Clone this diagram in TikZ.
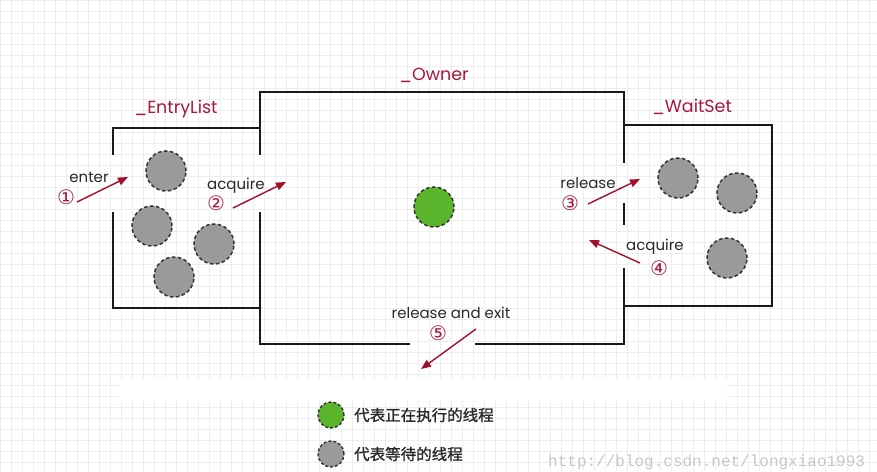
\documentclass[tikz,border=0pt]{standalone}
\usepackage{fontspec}
\setmainfont{Poppins}
\newfontfamily\symfont{DejaVu Sans}
\newfontfamily\cjkfont[FakeBold=1.2]{Noto Sans CJK SC}
\newfontfamily\wmfont{Liberation Mono}
\usetikzlibrary{arrows.meta,shapes.geometric}
\definecolor{lbl}{HTML}{A8193A}
\definecolor{arr}{HTML}{A0122C}
\definecolor{thr}{HTML}{9A9A9A}
\definecolor{run}{HTML}{5BB52C}
\definecolor{gridc}{HTML}{EDEDED}
\definecolor{txt}{HTML}{2A2A2A}
\begin{document}
\begin{tikzpicture}[x=1pt,y=-1pt,
  wall/.style={line width=2.8pt, black!90},
  thread/.style={circle, minimum size=40pt, inner sep=0pt, fill=thr, draw=black!80, line width=1.5pt, dash pattern=on 3.5pt off 2.5pt},
  running/.style={thread, fill=run},
  legthr/.style={circle, minimum size=26pt, inner sep=0pt, fill=thr, draw=black!80, line width=1.4pt, dash pattern=on 3pt off 2pt},
  boxtitle/.style={text=lbl, font=\fontsize{17.5}{20}\selectfont, inner sep=0pt},
  steplbl/.style={text=txt, font=\fontsize{15}{18}\selectfont, inner sep=0pt},
  stepnum/.style={text=lbl, font=\symfont\fontsize{20}{22}\selectfont, inner sep=0pt},
  flow/.style={arr, line width=1.4pt, -{Triangle[length=10pt,width=8pt]}},
  legtxt/.style={text=txt, font=\cjkfont\fontsize{15.5}{18}\selectfont, anchor=west, inner sep=0pt},
]
\useasboundingbox (0,0) rectangle (877,471);
\fill[white] (0,0) rectangle (877,471);
\begin{scope}
\clip (0,0) rectangle (877,471);
\foreach \i in {0,...,80} \draw[gridc, line width=0.5pt] (\i*11,0) -- (\i*11,471);
\foreach \i in {0,...,43} \draw[gridc, line width=0.5pt] (0,\i*11) -- (877,\i*11);
\end{scope}

% walls: EntryList
\draw[wall] (113,155) -- (113,128) -- (260,128);
\draw[wall] (113,212) -- (113,308) -- (260,308);
% Owner
\draw[wall] (260,155) -- (260,92) -- (624,92) -- (624,163);
\draw[wall] (260,212) -- (260,344) -- (410,344);
\draw[wall] (475,344) -- (624,344) -- (624,268);
\draw[wall] (624,203) -- (624,225);
% WaitSet
\draw[wall] (624,125) -- (772,125) -- (772,306) -- (624,306);

% titles
\node[boxtitle] (tEntry) at (176,109) {\_EntryList};
\node[boxtitle] (tOwner) at (434,75) {\_Owner};
\node[boxtitle] (tWait) at (692,107) {\_WaitSet};

% threads
\node[thread] (e1) at (166,171) {};
\node[thread] (e2) at (152,226) {};
\node[thread] (e3) at (214,244) {};
\node[thread] (e4) at (174,277) {};
\node[running] (o1) at (434,207) {};
\node[thread] (w1) at (678,178) {};
\node[thread] (w2) at (737,193) {};
\node[thread] (w3) at (727,258) {};

% step 1
\coordinate (a1s) at (77,202);
\coordinate (a1e) at (128,177);
\draw[flow] (a1s) -- (a1e);
\node[steplbl] (l1) at (89,177) {enter};
\node[stepnum] (n1) at (66,197) {①};
% step 2
\coordinate (a2s) at (233,208);
\coordinate (a2e) at (286,182);
\draw[flow] (a2s) -- (a2e);
\node[steplbl] (l2) at (236,186) {acquire};
\node[stepnum] (n2) at (216,203) {②};
% step 3
\coordinate (a3s) at (588,204);
\coordinate (a3e) at (640,179);
\draw[flow] (a3s) -- (a3e);
\node[steplbl] (l3) at (588,183) {release};
\node[stepnum] (n3) at (570,203) {③};
% step 4
\coordinate (a4s) at (640,263);
\coordinate (a4e) at (589,240);
\draw[flow] (a4s) -- (a4e);
\node[steplbl] (l4) at (655,247) {acquire};
\node[stepnum] (n4) at (659,268) {④};
% step 5
\coordinate (a5s) at (476,329);
\coordinate (a5e) at (421,369);
\draw[flow] (a5s) -- (a5e);
\node[steplbl] (l5) at (451,313) {release and exit};
\node[stepnum] (n5) at (438,333) {⑤};

% white bar
\fill[white] (120,379) rectangle (727,400);

% legend
\node[legthr, fill=run] (lg1) at (331,415) {};
\node[legtxt] (lt1) at (354,415) {代表正在执行的线程};
\node[legthr] (lg2) at (331,454) {};
\node[legtxt] (lt2) at (354,454) {代表等待的线程};

% watermark
\node[anchor=base west, inner sep=0pt, text=black!22, font=\wmfont\fontsize{16}{18}\selectfont] (wm) at (548,466) {http://blog.csdn.net/longxiao1993};
\end{tikzpicture}
\end{document}
